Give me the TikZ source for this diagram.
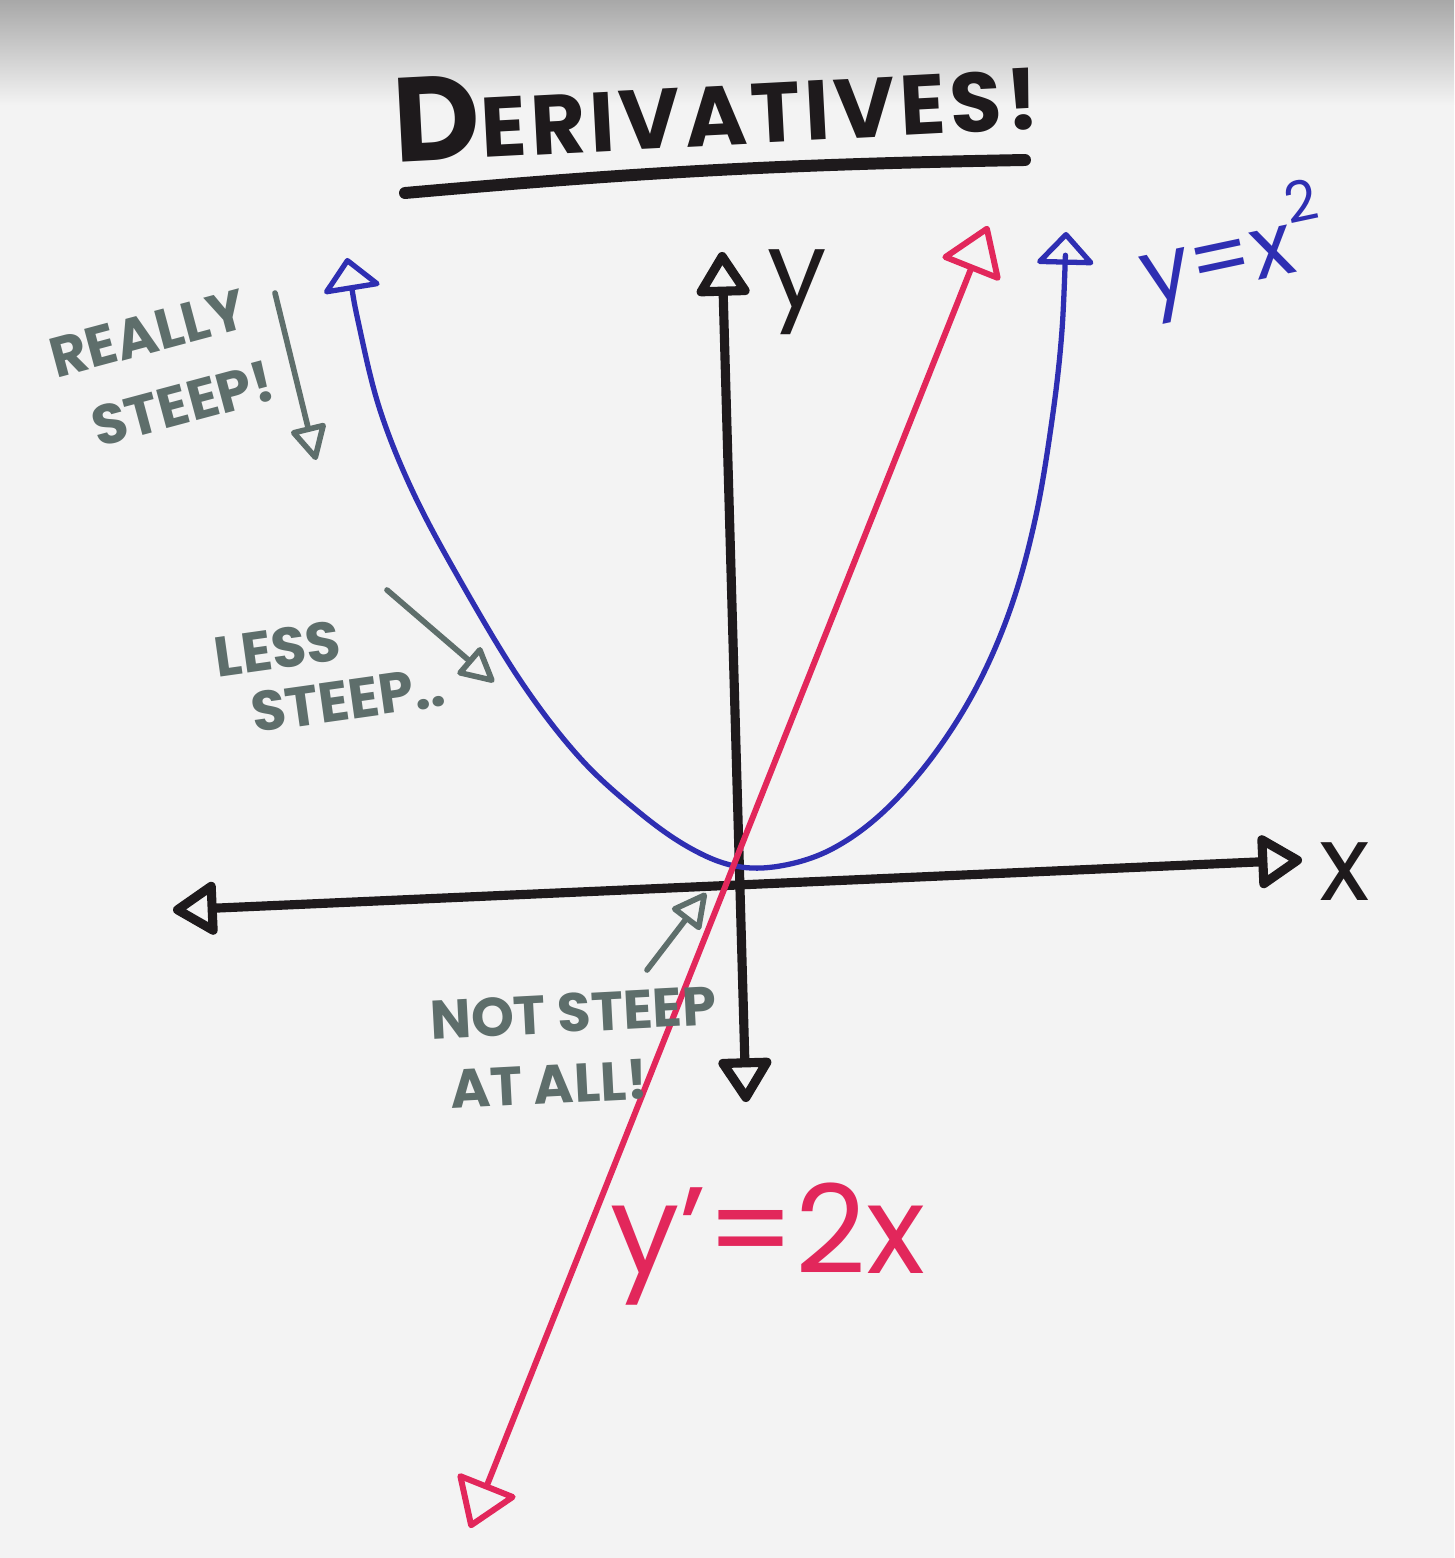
\documentclass[tikz,border=0pt]{standalone}
\usepackage{fontspec}
\setmainfont{Poppins}
\usetikzlibrary{arrows.meta}
\definecolor{ink}{HTML}{1E1A1C}
\definecolor{blueink}{HTML}{2E2EB2}
\definecolor{redink}{HTML}{E2275B}
\definecolor{grayink}{HTML}{5E6E6B}
\definecolor{paper}{HTML}{F3F3F3}
\definecolor{topgray}{HTML}{A8A8A8}
\tikzset{
  axisline/.style={draw=ink, line width=2.6pt, line cap=round, line join=round},
  axtip/.tip={Triangle[open, length=0.48cm, width=0.58cm, line join=round]},
  bluetip/.tip={Triangle[open, length=0.34cm, width=0.62cm, line join=round]},
  redtip/.tip={Triangle[open, length=0.5cm, width=0.66cm, line join=round]},
  graytip/.tip={Triangle[open, length=0.38cm, width=0.38cm, line join=round]},
  bluecurve/.style={draw=blueink, line width=1.5pt, line cap=round, line join=round},
  redline/.style={draw=redink, line width=1.7pt, line cap=round, line join=round},
  grayarrow/.style={draw=grayink, line width=1.6pt, line cap=round, line join=round, -graytip},
  graytext/.style={text=grayink, inner sep=0pt, align=left},
  blacklabel/.style={text=ink, font=\fontsize{30}{30}\selectfont, inner sep=0pt},
}
\begin{document}
\begin{tikzpicture}[x=0.01cm, y=-0.01cm]
\fill[paper] (0,0) rectangle (1454,1558);
\shade[top color=topgray, bottom color=paper] (0,0) rectangle (1454,105);
\useasboundingbox (0,0) rectangle (1454,1558);

% title
\node[text=ink, inner sep=0pt, rotate=3] (title) at (716,104)
  {\bfseries\fontsize{34}{34}\selectfont D\fontsize{24}{24}\selectfont\addfontfeatures{LetterSpace=5} ERIVATIVES!};
\coordinate (ulA) at (405,193);
\coordinate (ulB) at (1025,160);
\draw[ink, line width=3.4pt, line cap=round] (ulA) to[bend left=2] (ulB);

% axes
\coordinate (O) at (735,870);
\coordinate (xL) at (173,910);
\coordinate (xR) at (1302,860);
\coordinate (yT) at (722,252);
\coordinate (yB) at (746,1102);
\draw[axisline, axtip-axtip] (xL) -- (xR);
\draw[axisline, axtip-axtip] (yB) -- (yT);
\node[blacklabel] (ylab) at (797,292) {y};
\node[blacklabel] (xlab) at (1345,872) {x};

% parabola
\draw[bluecurve, bluetip-bluetip] plot[smooth, tension=0.6] coordinates {
  (347,258) (360,330) (380,410) (412,490) (457,575)
  (520,680) (580,758) (640,813) (690,848) (735,866) (780,866) (830,850)
  (880,815) (930,760) (975,690) (1010,610) (1035,520) (1052,420)
  (1062,330) (1066,232)};
\node[text=blueink, font=\fontsize{25}{25}\selectfont, inner sep=0pt, rotate=12] (ylabblue) at (1232,252)
  {y=x\raisebox{0.55em}{\fontsize{16}{16}\selectfont 2}};

% derivative line
\coordinate (rT) at (988,226);
\coordinate (rB) at (470,1528);
\draw[redline, redtip-redtip] (rB) -- (rT);
\node[text=redink, font=\fontsize{35}{35}\selectfont, inner sep=0pt] (redlab) at (768,1244) {y'=2x};

% annotations
\node[graytext, font=\bfseries\fontsize{16}{22}\selectfont, rotate=15] (really) at (162,370) {REALLY\\\hspace{0.4em}STEEP!};
\coordinate (rsA) at (275,293);
\coordinate (rsB) at (316,460);
\draw[grayarrow] (rsA) -- (rsB);

\node[graytext, font=\bfseries\fontsize{16}{17}\selectfont, rotate=8] (less) at (330,672) {LESS\\\hspace{0.5em}STEEP..};
\coordinate (lsA) at (387,590);
\coordinate (lsB) at (494,682);
\draw[grayarrow] (lsA) -- (lsB);

\node[graytext, font=\bfseries\fontsize{15.5}{20}\selectfont, rotate=3] (notsteep) at (575,1048) {NOT STEEP\\\hspace{0.3em}AT ALL!};
\coordinate (nsA) at (647,970);
\coordinate (nsB) at (706,893);
\draw[grayarrow] (nsA) -- (nsB);
\end{tikzpicture}
\end{document}
